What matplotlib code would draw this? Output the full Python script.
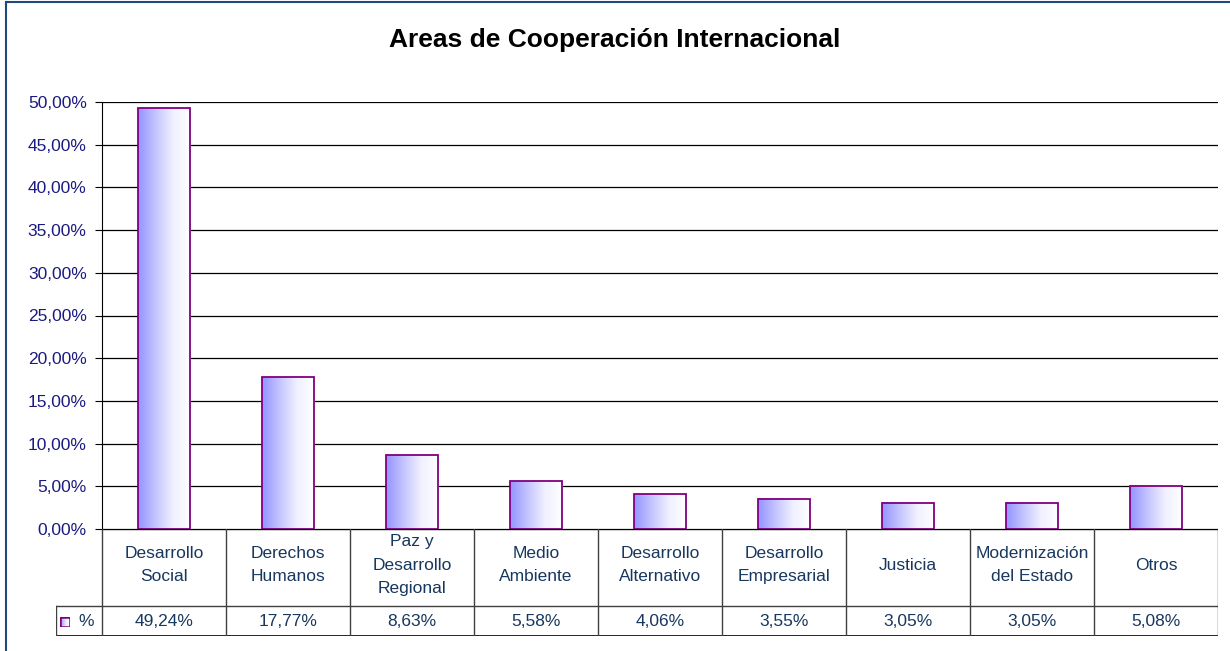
import numpy as np
import matplotlib.pyplot as plt
from matplotlib.lines import Line2D
from matplotlib.patches import Rectangle
from matplotlib.colors import LinearSegmentedColormap

plt.rcParams['font.family'] = ['Liberation Sans', 'DejaVu Sans']

categories = ["Desarrollo\nSocial", "Derechos\nHumanos", "Paz y\nDesarrollo\nRegional",
              "Medio\nAmbiente", "Desarrollo\nAlternativo", "Desarrollo\nEmpresarial",
              "Justicia", "Modernización\ndel Estado", "Otros"]
values = [49.24, 17.77, 8.63, 5.58, 4.06, 3.55, 3.05, 3.05, 5.08]
value_labels = ["49,24%", "17,77%", "8,63%", "5,58%", "4,06%", "3,55%", "3,05%", "3,05%", "5,08%"]
yticks = [0, 5, 10, 15, 20, 25, 30, 35, 40, 45, 50]

W, H = 1230, 651
fig = plt.figure(figsize=(W / 100, H / 100), dpi=100)

def fx(px):
    return px / W

def fy(py):
    return 1 - py / H

ax = fig.add_axes([fx(102), fy(529), fx(1218) - fx(102), fy(102) - fy(529)])
n = len(values)

cmap = LinearSegmentedColormap.from_list('g', ['#9494ff', '#c4c4ff', '#f0f0ff', '#ffffff'])
grad = np.linspace(0, 1, 256).reshape(1, -1)
bw = 0.42
for i, v in enumerate(values):
    ax.imshow(grad, cmap=cmap, extent=[i - bw / 2, i + bw / 2, 0, v], aspect='auto', zorder=2)
    ax.add_patch(Rectangle((i - bw / 2, 0), bw, v, fill=False, edgecolor='#800080', lw=1.3, zorder=3))
ax.set_xlim(-0.5, n - 0.5)
ax.set_ylim(0, 50)

for t in yticks:
    ax.axhline(t, color='black', lw=0.9, zorder=1)
ax.set_yticks(yticks)
ax.set_yticklabels(["%d,00%%" % t for t in yticks], fontsize=12.5, color='#1a1a80')
ax.set_xticks([])
for s in ['top', 'right', 'bottom']:
    ax.spines[s].set_visible(False)
ax.spines['left'].set_color('black')
ax.tick_params(axis='y', length=5, color='black', pad=6)

# data table below the plot
tb = fig.add_axes([fx(56), fy(636), fx(1218) - fx(56), fy(529) - fy(636)])
left = -0.5 - 46 / 124.0
tb.set_xlim(left, n - 0.5)
tb.set_ylim(0, 107)
tb.axis('off')
lc = '#404040'
tb.plot([-0.5, n - 0.5], [107, 107], color='black', lw=1)
tb.plot([left, n - 0.5], [30, 30], color=lc, lw=1)
tb.plot([left, n - 0.5], [0, 0], color='black', lw=1.2)
tb.plot([left, left], [0, 30], color=lc, lw=1)
for k in range(n + 1):
    tb.plot([k - 0.5, k - 0.5], [0, 107], color=lc, lw=1)
for i, c in enumerate(categories):
    tb.text(i, 71, c, ha='center', va='center', fontsize=12.5, color='#17375e', linespacing=1.7)
    tb.text(i, 15, value_labels[i], ha='center', va='center', fontsize=12.5, color='#17375e')

# legend key in the table
lk = fig.add_axes([fx(60), fy(627), fx(10), fy(617) - fy(627)])
lk.imshow(grad, cmap=cmap, aspect='auto', extent=[0, 1, 0, 1])
lk.add_patch(Rectangle((0, 0), 1, 1, fill=False, edgecolor='#800080', lw=1.8))
lk.set_xlim(0, 1)
lk.set_ylim(0, 1)
lk.axis('off')
fig.text(fx(78), fy(621), "%", fontsize=12.5, color='#17375e', va='center')

fig.text(0.5, fy(40), "Areas de Cooperación Internacional", ha='center', va='center',
         fontsize=19, fontweight='bold', color='black')

# outer border (left and top visible)
fig.add_artist(Line2D([fx(6), fx(6)], [fy(2), 0], color='#1f497d', lw=1.5))
fig.add_artist(Line2D([fx(6), 1], [fy(2), fy(2)], color='#1f497d', lw=1.5))

plt.savefig('out.png', dpi=100)
